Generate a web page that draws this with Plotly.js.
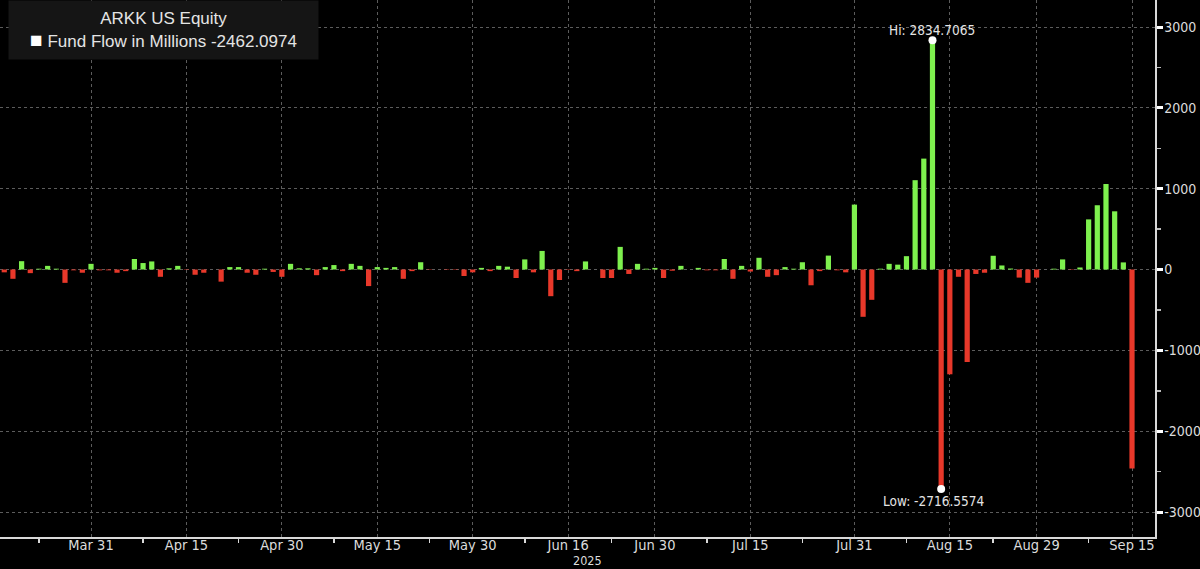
<!DOCTYPE html>
<html>
<head>
<meta charset="utf-8">
<script src="https://cdn.plot.ly/plotly-3.0.1.min.js"></script>
<style>
  html, body { margin: 0; padding: 0; background: #000; }
  #chart { width: 1200px; height: 569px; }
</style>
</head>
<body>
<div id="chart"></div>
<script>
// ---- Data ----
const ticker = "ARKK US Equity";
const seriesName = "Fund Flow in Millions";
const startDate = "2025-03-17";     // first trading weekday shown
const dayCount = 131;               // weekdays from Mar 17 to Sep 15, 2025
// fund flow per weekday (null = market holiday)
const flows = [
  -35, -115, 103, -45, 10, 45, 10, -165, -10, -40,
  70, -10, -10, -40, -20, 130, 80, 100, -90, 15,
  45, -5, -65, -40, null, -150, 30, 30, -40, -65,
  10, -30, -90, 70, 15, 15, -70, 30, 55, -20,
  70, 45, -205, 30, 20, 30, -115, -20, 90, -5,
  null, -5, -5, -80, -35, 20, -20, 45, 35, -105,
  125, -35, 230, -330, -130, -5, -20, 100, null, -105,
  -105, 280, -55, 70, 10, 20, -105, -15, 45, null,
  20, -10, -10, 130, -115, 45, -25, 145, -90, -70,
  30, 10, 90, -195, -20, 172, -10, -35, 803, -585,
  -375, 10, 70, 60, 165, 1105, 1372, 2834.7065, -2716.5574, -1296,
  -90, -1144, -55, -40, 170, 50, 12, -100, -165, -100,
  null, 10, 125, -5, 25, 620, 795, 1058, 720, 88,
  -2462.0974
];
const tickDates = ["2025-03-31","2025-04-15","2025-04-30","2025-05-15","2025-05-30","2025-06-16",
                   "2025-06-30","2025-07-15","2025-07-31","2025-08-15","2025-08-29","2025-09-15"];
const tickLabels = ["Mar 31","Apr 15","Apr 30","May 15","May 30","Jun 16",
                    "Jun 30","Jul 15","Jul 31","Aug 15","Aug 29","Sep 15"];
const yearLabel = "2025";
const yTicks = [-3000, -2000, -1000, 0, 1000, 2000, 3000];

// ---- Build weekday categories ----
function fmt(d) {
  const m = String(d.getUTCMonth() + 1).padStart(2, "0");
  const dd = String(d.getUTCDate()).padStart(2, "0");
  return d.getUTCFullYear() + "-" + m + "-" + dd;
}
const dates = [];
{
  const d = new Date(startDate + "T00:00:00Z");
  while (dates.length < dayCount) {
    const wd = d.getUTCDay();
    if (wd !== 0 && wd !== 6) dates.push(fmt(d));
    d.setUTCDate(d.getUTCDate() + 1);
  }
}
const xs = dates.map(s => s + " 12:00");

const GREEN = "#7ef04e";
const RED = "#e8382a";
const colors = flows.map(v => (v !== null && v >= 0) ? GREEN : RED);

// hi / low
let hiI = 0, loI = 0;
flows.forEach((v, i) => {
  if (v === null) return;
  if (v > flows[hiI]) hiI = i;
  if (v < flows[loI]) loI = i;
});
let lastI = flows.length - 1;
while (flows[lastI] === null) lastI--;
const lastVal = flows[lastI];

// minor x ticks between the labelled dates
const tickIdx = tickDates.map(t => dates.indexOf(t));
const minorVals = [];
minorVals.push(xs[Math.max(0, tickIdx[0] - 6)]);
for (let k = 0; k + 1 < tickIdx.length; k++) {
  minorVals.push(xs[Math.round((tickIdx[k] + tickIdx[k + 1]) / 2)]);
}

const FONT = "'Liberation Sans Narrow', 'DejaVu Sans Condensed', 'Arial Narrow', sans-serif";

const traces = [
  {
    type: "bar",
    x: xs,
    y: flows,
    marker: { color: colors, line: { width: 0 } },
    hoverinfo: "x+y",
    showlegend: false
  },
  {
    type: "scatter",
    mode: "markers",
    x: [xs[hiI], xs[loI]],
    y: [flows[hiI], flows[loI]],
    marker: { color: "#ffffff", size: 8 },
    cliponaxis: false,
    hoverinfo: "skip",
    showlegend: false
  }
];

const layout = {
  width: 1200,
  height: 569,
  paper_bgcolor: "#000000",
  plot_bgcolor: "#000000",
  margin: { l: 0, r: 45, t: 0, b: 32, pad: 0 },
  bargap: 0.4,
  showlegend: false,
  font: { family: FONT, color: "#dcdcdc", size: 14 },
  xaxis: {
    type: "date",
    rangebreaks: [{ bounds: ["sat", "mon"] }],
    range: ["2025-03-17 00:12", "2025-09-18 03:36"],
    tickmode: "array",
    tickvals: tickDates.map(t => t + " 12:00"),
    ticktext: tickLabels,
    ticks: "",
    ticklabelstandoff: -6,
    showgrid: true,
    gridcolor: "#5c5c5c",
    griddash: "dot",
    gridwidth: 1,
    showline: true,
    linecolor: "#d8d8d8",
    linewidth: 1.5,
    zeroline: false,
    tickfont: { family: FONT, size: 14.5, color: "#dcdcdc" },
    minor: {
      tickmode: "array",
      tickvals: minorVals,
      ticks: "outside",
      ticklen: 4,
      tickwidth: 1.5,
      tickcolor: "#d8d8d8",
      showgrid: false
    },
    fixedrange: true
  },
  yaxis: {
    side: "right",
    range: [-3309, 3334],
    tickmode: "array",
    tickvals: yTicks,
    ticktext: yTicks.map(v => String(v)),
    ticks: "outside",
    ticklen: 6,
    tickwidth: 3,
    tickcolor: "#ffffff",
    ticklabelstandoff: -1,
    showgrid: true,
    gridcolor: "#5c5c5c",
    griddash: "dot",
    gridwidth: 1,
    showline: true,
    linecolor: "#d8d8d8",
    linewidth: 1.5,
    zeroline: false,
    tickfont: { family: FONT, size: 14, color: "#dcdcdc" },
    minor: {
      dtick: 500,
      tick0: 0,
      ticks: "outside",
      ticklen: 4,
      tickwidth: 1.5,
      tickcolor: "#bdbdbd",
      showgrid: false
    },
    fixedrange: true
  },
  annotations: [
    {
      xref: "paper", yref: "paper",
      x: 8 / 1155, y: 1,
      xanchor: "left", yanchor: "top",
      width: 301, height: 50,
      align: "center",
      valign: "middle",
      bgcolor: "#151515",
      borderpad: 4,
      showarrow: false,
      font: { family: "'Liberation Sans', Arial, sans-serif", size: 17, color: "#e4e4e4" },
      text: ticker + "<br><span style='color:#ffffff;font-size:21px'>■</span> " + seriesName + " " + lastVal.toFixed(4)
    },
    {
      x: xs[hiI], y: flows[hiI],
      xref: "x", yref: "y",
      showarrow: false,
      yanchor: "middle",
      yshift: 10,
      text: "Hi: " + flows[hiI].toFixed(4),
      font: { family: FONT, size: 13.5, color: "#e4e4e4" }
    },
    {
      x: xs[loI], y: flows[loI],
      xref: "x", yref: "y",
      showarrow: false,
      yanchor: "middle",
      yshift: -12,
      xshift: -8,
      text: "Low: " + flows[loI].toFixed(4),
      font: { family: FONT, size: 13.5, color: "#e4e4e4" }
    },
    {
      x: tickDates[5] + " 12:00", y: 0,
      xref: "x", yref: "paper",
      showarrow: false,
      yanchor: "top",
      yshift: -15,
      xshift: 19,
      borderpad: 0,
      text: yearLabel,
      font: { family: FONT, size: 12.5, color: "#dcdcdc" }
    }
  ]
};

Plotly.newPlot("chart", traces, layout, { displayModeBar: false, staticPlot: true });
</script>
</body>
</html>
